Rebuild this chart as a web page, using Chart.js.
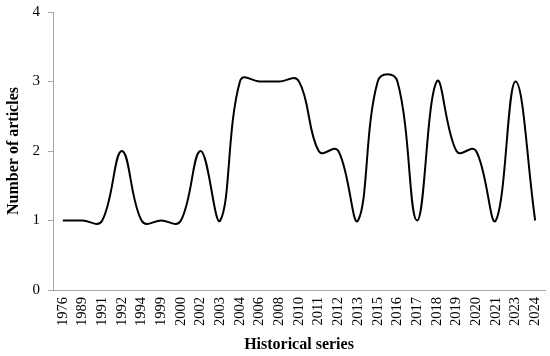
<!DOCTYPE html>
<html>
<head>
<meta charset="utf-8">
<script src="https://cdn.jsdelivr.net/npm/chart.js@4"></script>
<style>
html,body{margin:0;padding:0;background:#fff;}
#wrap{width:550px;height:356px;position:relative;}
</style>
</head>
<body>
<div id="wrap"><canvas id="c" width="550" height="356"></canvas></div>
<script>
const categories = ["1976","1989","1991","1992","1994","1999","2000","2002","2003","2004","2006","2008","2010","2011","2012","2013","2015","2016","2017","2018","2019","2020","2021","2023","2024"];
const articles = [1,1,1,2,1,1,1,2,1,3,3,3,3,2,2,1,3,3,1,3,2,2,1,3,1];
const yTicks = [0,1,2,3,4];
const xTitle = "Historical series";
const yTitle = "Number of articles";

const axisColor = "#a6a6a6";
const TENSION = 0.4;
const XSTRETCH = 1.5;

// Spline control points (Chart.js formula, distances measured with x stretched)
const smoothPlugin = {
  id: "stretchSmooth",
  beforeDatasetsDraw(chart) {
    chart.data.datasets.forEach((ds, i) => {
      const meta = chart.getDatasetMeta(i);
      const line = meta.dataset;
      const pts = meta.data;
      line.updateControlPoints(chart.chartArea, "x");
      const n = pts.length;
      for (let k = 0; k < n; k++) {
        const p = pts[k];
        const prev = pts[Math.max(k - 1, 0)];
        const next = pts[Math.min(k + 1, n - 1)];
        const d01 = Math.hypot((p.x - prev.x) * XSTRETCH, p.y - prev.y);
        const d12 = Math.hypot((next.x - p.x) * XSTRETCH, next.y - p.y);
        const sum = d01 + d12 || 1;
        const fa = TENSION * d01 / sum, fb = TENSION * d12 / sum;
        const dx = next.x - prev.x, dy = next.y - prev.y;
        p.cp1x = p.x - fa * dx; p.cp1y = p.y - fa * dy;
        p.cp2x = p.x + fb * dx; p.cp2y = p.y + fb * dy;
      }
    });
  }
};

new Chart(document.getElementById("c"), {
  type: "line",
  data: {
    labels: categories,
    datasets: [{
      data: articles,
      borderColor: "#000",
      borderWidth: 2,
      pointRadius: 0,
      fill: false,
      tension: TENSION,
      clip: false
    }]
  },
  options: {
    responsive: false,
    animation: false,
    layout: { padding: { top: 12, right: 5, left: 4, bottom: 2 } },
    plugins: { legend: { display: false }, tooltip: { enabled: false } },
    scales: {
      x: {
        offset: true,
        grid: { display: false, drawTicks: false },
        border: { display: true, color: axisColor, width: 1 },
        ticks: {
          color: "#000", font: { family: "Liberation Serif", size: 14.5 },
          minRotation: 90, maxRotation: 90, autoSkip: false, padding: 7
        },
        title: { display: true, text: xTitle, color: "#000",
          font: { family: "Liberation Serif", size: 16, weight: "bold" }, padding: { top: 2, bottom: 0 } },
        afterFit: (s) => { s.height = 356 - 290 - 2; s.paddingLeft = 0; s.paddingRight = 0; }
      },
      y: {
        min: 0, max: 4,
        afterBuildTicks: (s) => { s.ticks = yTicks.map(v => ({ value: v })); },
        grid: { display: true, drawOnChartArea: false, drawTicks: true, tickLength: 5, color: axisColor },
        border: { display: true, color: axisColor, width: 1 },
        ticks: { color: "#000", font: { family: "Liberation Serif", size: 15 }, padding: 8 },
        title: { display: true, text: yTitle, color: "#000",
          font: { family: "Liberation Serif", size: 16, weight: "bold" }, padding: { top: 0, bottom: 8 } },
        afterFit: (s) => { s.width = 53 - 4; s.paddingTop = 0; s.paddingBottom = 0; }
      }
    }
  },
  plugins: [smoothPlugin]
});
</script>
</body>
</html>
